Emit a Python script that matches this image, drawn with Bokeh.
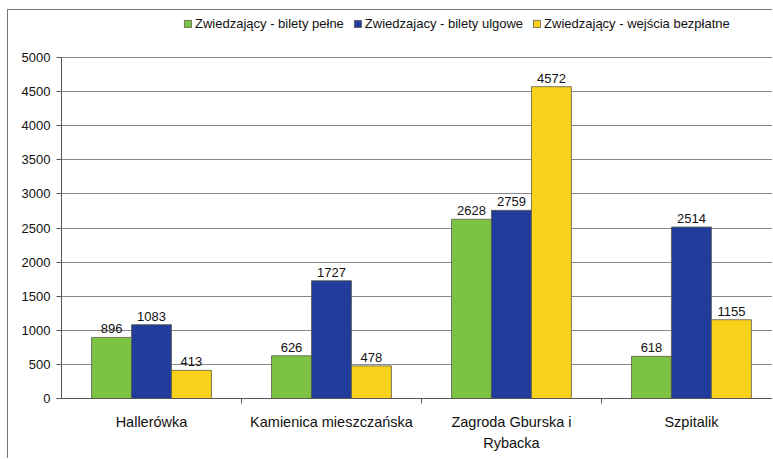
from bokeh.plotting import figure
from bokeh.models import (ColumnDataSource, FixedTicker, Legend, LegendItem,
                          LabelSet, Range1d)
from bokeh.core.properties import value
from bokeh.embed import file_html
from bokeh.resources import INLINE

categories = ["Hallerówka", "Kamienica mieszczańska", "Zagroda Gburska i\nRybacka", "Szpitalik"]
series_names = ["Zwiedzający - bilety pełne", "Zwiedzajacy - bilety ulgowe",
                "Zwiedzający - wejścia bezpłatne"]
pelne = [896, 626, 2628, 618]
ulgowe = [1083, 1727, 2759, 2514]
bezplatne = [413, 478, 4572, 1155]
y_ticks = [0, 500, 1000, 1500, 2000, 2500, 3000, 3500, 4000, 4500, 5000]

colors = ["#7cc243", "#213d9c", "#f8d21a"]
FONT = "Liberation Sans"

# frame spans page y 10..398, value 5000 sits at page y 57
y_top = 5000 * (398 - 10) / (398 - 57)

p = figure(width=765, height=449, output_backend="svg", toolbar_location=None,
           x_range=Range1d(0, 3.956), y_range=Range1d(0, y_top),
           min_border_left=53, min_border_right=0, min_border_bottom=61,
           min_border_top=0)
p.styles = {"border-left": "1px solid #777", "border-top": "1px solid #777",
            "margin-left": "7px", "margin-top": "9px"}

centers = [i + 0.5 for i in range(len(categories))]
bw = 0.222
offsets = [-bw, 0.0, bw]
renderers = []
for vals, off, col, name in zip([pelne, ulgowe, bezplatne], offsets, colors, series_names):
    src = ColumnDataSource(dict(x=[c + off for c in centers], top=vals,
                                lbl=[str(v) for v in vals]))
    r = p.vbar(x="x", top="top", width=bw, source=src, fill_color=col,
               line_color="#5a5a4a", line_width=0.8)
    renderers.append((name, r))
    p.add_layout(LabelSet(x="x", y="top", text="lbl", source=src, text_align="center",
                          y_offset=4, text_font=value(FONT), text_font_size="13px",
                          text_color="#111111"))

legend = Legend(items=[LegendItem(label=n, renderers=[r]) for n, r in renderers],
                orientation="horizontal", location=(122, 367),
                label_text_font=FONT, label_text_font_size="13px",
                label_text_color="#111111",
                glyph_width=9, glyph_height=9, label_standoff=3, spacing=9,
                padding=2, margin=0, border_line_color=None,
                background_fill_alpha=0)
p.add_layout(legend, "center")

p.xaxis.ticker = FixedTicker(ticks=centers, minor_ticks=[1, 2, 3])
p.xaxis.major_label_overrides = {c: lab for c, lab in zip(centers, categories)}
p.xaxis.major_tick_line_color = None
p.xaxis.minor_tick_in = 0
p.xaxis.minor_tick_out = 5
p.xaxis.minor_tick_line_color = "#555555"
p.xaxis.major_label_text_font = FONT
p.xaxis.major_label_text_font_size = "14.5px"
p.xaxis.major_label_text_color = "#111111"
p.xaxis.major_label_text_line_height = 1.35
p.xaxis.major_label_standoff = 9
p.xaxis.axis_line_color = "#555555"

p.yaxis.ticker = FixedTicker(ticks=y_ticks)
p.yaxis.bounds = (0, 5000)
p.yaxis.minor_tick_line_color = None
p.yaxis.major_tick_in = 0
p.yaxis.major_tick_out = 5
p.yaxis.major_label_text_font = FONT
p.yaxis.major_label_text_font_size = "13px"
p.yaxis.major_label_text_color = "#111111"
p.yaxis.major_label_standoff = 6
p.yaxis.axis_line_color = "#555555"
p.yaxis.major_tick_line_color = "#555555"

p.xgrid.grid_line_color = None
p.ygrid.ticker = FixedTicker(ticks=y_ticks)
p.ygrid.grid_line_color = "#8a8a8a"
p.outline_line_color = None

open("out.html", "w").write(file_html(p, INLINE))
